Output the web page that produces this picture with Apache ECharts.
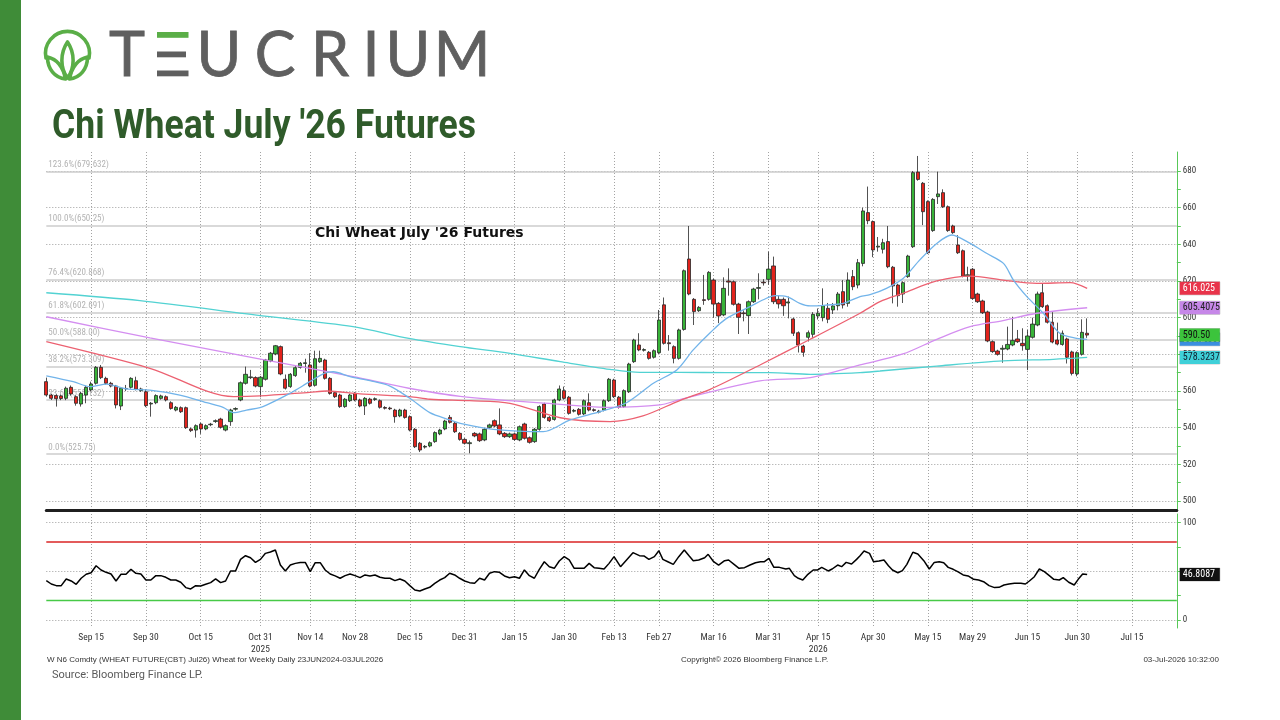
<!DOCTYPE html>
<html><head><meta charset="utf-8">
<script src="https://cdn.jsdelivr.net/npm/echarts@6/dist/echarts.min.js"></script>
<style>
html,body{margin:0;padding:0;background:#fff;width:1280px;height:720px;overflow:hidden}
#chart{position:absolute;left:0;top:0;width:1280px;height:720px}
#bar{position:absolute;left:0;top:0;width:21px;height:720px;background:#3f8c38}
#hdr{position:absolute;left:0;top:0}
</style></head><body>
<div id="chart"></div>
<div id="bar"></div>
<svg id="hdr" width="600" height="150" viewBox="0 0 600 150">
  <g fill="none" stroke="#5aae47" stroke-width="3.6" stroke-linejoin="round" stroke-linecap="round">
    <path d="M 46 58 A 22 22 0 1 1 89 58"/>
    <path d="M 67.5 78 C 60 68, 60 53, 67.5 42 C 75 53, 75 68, 67.5 78 Z"/>
    <path d="M 65.5 79 C 55 78, 47.5 69, 47.5 57 C 56 59, 63 66, 65.5 79 Z"/>
    <path d="M 69.5 79 C 80 78, 87.5 69, 87.5 57 C 79 59, 72 66, 69.5 79 Z"/>
  </g>
  <g font-family="Lato, 'Open Sans', sans-serif" font-size="61" fill="#5f5f5f" text-anchor="middle" stroke="#5f5f5f" stroke-width="0.8">
    <text x="127" y="76">T</text>
    <text x="219" y="76">U</text>
    <text x="275" y="76">C</text>
    <text x="330" y="76">R</text>
    <text x="371" y="76">I</text>
    <text x="408" y="76">U</text>
    <text x="462" y="76">M</text>
  </g>
  <rect x="157" y="32" width="31.5" height="5.8" fill="#5aae47"/>
  <rect x="157" y="51.5" width="29" height="5.8" fill="#5f5f5f"/>
  <rect x="157" y="70.5" width="31.5" height="5.8" fill="#5f5f5f"/>
  <text x="52" y="138" font-family="Roboto, 'Liberation Sans', sans-serif" font-weight="700" font-size="40" fill="#2f5b2a" textLength="424" lengthAdjust="spacingAndGlyphs">Chi Wheat July '26 Futures</text>
</svg>
<script>
// ---------- DATA ----------
const holidays = ['2025-11-27','2025-12-25','2026-01-01','2026-01-19','2026-02-16','2026-04-03','2026-05-25','2026-06-19'];
const categories = [];
for (let d = new Date(Date.UTC(2025, 8, 2)); categories.length < 228; d.setUTCDate(d.getUTCDate() + 1)) {
  const wd = d.getUTCDay(); const s = d.toISOString().slice(0, 10);
  if (wd === 0 || wd === 6 || holidays.includes(s)) continue;
  categories.push(s);
}
const tickDates = ['2025-09-15','2025-09-30','2025-10-15','2025-10-31','2025-11-14','2025-11-28','2025-12-15','2025-12-31','2026-01-15','2026-01-30','2026-02-13','2026-02-27','2026-03-16','2026-03-31','2026-04-15','2026-04-30','2026-05-15','2026-05-29','2026-06-15','2026-06-30','2026-07-15'];
const tickLabels = ['Sep 15','Sep 30','Oct 15','Oct 31\n2025','Nov 14','Nov 28','Dec 15','Dec 31','Jan 15','Jan 30','Feb 13','Feb 27','Mar 16','Mar 31','Apr 15\n2026','Apr 30','May 15','May 29','Jun 15','Jun 30','Jul 15'];

// [open, close, low, high]
const ohlc = [
[565.1,557.8,556.9,567.3],[557.8,556.0,555.1,558.5],[557.5,555.8,551.5,558.2],[557.3,555.9,555.0,558.0],[556.0,561.5,555.0,562.4],
[562.0,558.4,557.5,563.0],[556.9,553.3,552.0,557.6],[552.9,558.7,551.5,559.5],[557.8,562.0,553.3,562.8],[560.6,563.8,559.8,565.1],
[564.2,572.9,563.5,573.6],[572.9,567.3,566.5,574.2],[566.9,564.2,563.5,567.8],[564.2,562.7,562.0,565.0],[562.7,552.4,550.5,563.3],
[551.8,561.5,549.6,562.2],[561.4,561.2,560.0,563.3],[562.0,566.9,561.3,567.5],[565.6,561.0,560.3,567.8],[560.2,561.1,559.5,561.8],
[559.6,552.0,551.2,561.0],[552.9,553.3,546.0,554.0],[553.6,557.5,552.8,558.2],[556.0,557.3,555.3,558.0],[556.9,555.1,554.3,557.6],
[553.6,550.5,549.8,554.4],[549.6,551.1,548.9,551.8],[550.9,548.7,548.0,551.6],[550.9,540.0,539.3,551.5],[539.3,538.4,537.6,540.0],
[538.7,541.1,534.6,541.8],[542.0,539.3,536.6,542.7],[539.3,541.1,538.6,541.8],[541.6,541.9,540.8,542.6],[543.4,543.8,542.6,544.5],
[544.7,540.2,539.5,545.4],[538.7,541.1,538.0,541.8],[543.3,549.6,541.0,550.3],[550.1,550.4,549.3,551.1],[555.1,564.5,554.4,565.2],
[564.2,569.1,563.5,573.3],[567.3,567.7,566.5,571.5],[567.3,562.7,562.0,568.0],[562.4,567.5,556.6,568.2],[566.4,576.9,565.7,577.5],
[576.4,580.6,575.7,581.3],[580.2,584.7,579.5,585.1],[584.2,569.3,568.6,584.8],[566.4,561.5,560.8,569.0],[562.4,569.1,561.7,569.8],
[568.4,572.7,567.7,573.6],[572.9,575.1,572.2,575.8],[575.0,575.4,570.0,577.6],[574.2,562.7,562.0,580.6],[563.1,577.6,562.4,582.0],
[576.0,577.8,575.3,582.0],[576.9,566.9,566.2,577.6],[566.9,558.7,558.0,567.6],[559.1,556.9,556.2,559.8],[557.8,551.5,550.8,558.5],
[551.5,555.5,550.8,556.2],[554.7,557.8,554.0,558.5],[558.7,555.1,554.4,559.4],[555.1,551.8,551.1,555.8],[551.8,556.0,546.9,556.7],
[555.6,553.3,552.6,556.3],[555.4,555.8,554.6,556.5],[554.7,551.1,550.4,555.4],[551.0,550.6,549.9,551.7],[550.7,550.3,549.6,551.4],
[549.6,546.0,542.7,550.3],[546.4,549.6,545.7,550.3],[549.6,545.6,544.9,550.3],[546.0,538.7,538.0,546.7],[539.1,529.6,528.9,539.8],
[531.5,527.8,526.7,532.2],[529.4,529.8,528.6,530.5],[530.0,531.8,529.3,532.5],[532.4,537.3,531.7,538.0],[536.6,538.7,535.9,539.4],
[539.3,543.6,538.6,544.3],[545.6,542.9,542.2,546.9],[542.4,537.8,537.1,543.1],[536.9,533.6,532.9,537.6],[533.6,531.5,530.8,534.3],
[531.3,531.8,526.0,533.0],[536.9,535.5,534.8,537.6],[536.6,532.9,532.2,537.3],[533.3,539.1,532.6,539.8],[540.2,541.5,539.5,542.2],
[543.8,540.9,540.2,544.5],[541.5,536.6,535.9,550.5],[536.9,535.1,534.4,537.6],[535.1,536.6,534.4,537.3],[536.6,533.6,532.9,537.3],
[533.3,540.5,532.6,541.2],[542.0,534.2,533.5,542.7],[534.5,532.0,531.3,535.2],[532.4,539.1,531.7,539.8],[539.1,551.5,538.4,552.2],
[552.9,545.6,544.9,553.6],[545.6,543.8,543.1,546.3],[544.5,555.1,543.8,555.8],[555.1,561.1,554.4,563.0],[560.2,556.0,555.3,562.4],
[556.6,547.8,547.1,557.3],[549.0,549.4,548.3,550.2],[550.0,547.3,546.6,550.7],[547.5,554.7,546.8,555.4],[553.6,549.6,548.9,558.7],
[549.8,549.4,548.7,550.5],[548.5,549.0,547.8,549.7],[549.6,554.7,548.9,555.4],[554.7,566.4,554.0,567.1],[566.0,556.9,556.2,566.7],
[556.6,551.1,550.4,557.3],[551.5,560.2,550.8,560.9],[559.6,574.7,558.9,575.4],[576.0,587.8,575.3,588.5],[585.1,582.4,581.7,591.5],
[582.2,582.6,581.5,583.3],[581.1,577.8,577.1,581.8],[578.4,582.0,577.7,582.7],[580.9,598.7,580.2,604.2],[607.0,586.0,585.3,611.0],
[586.3,585.8,582.0,590.5],[584.2,577.8,575.1,584.9],[577.8,593.3,577.1,594.0],[593.6,625.6,592.9,626.3],[632.0,612.9,612.2,650.0],
[610.0,603.3,596.0,610.7],[603.8,605.6,603.1,606.3],[609.8,609.4,607.0,623.3],[610.0,624.7,609.3,625.4],[620.5,607.4,600.0,621.2],
[607.8,600.9,597.0,608.5],[601.5,616.0,600.8,622.0],[620.0,619.4,612.0,626.9],[619.6,607.3,606.6,620.3],[607.4,600.2,591.1,608.1],
[602.6,602.2,598.0,604.0],[601.1,608.7,591.1,609.4],[608.7,615.6,608.0,616.3],[616.0,616.4,610.0,624.2],[619.4,619.0,617.5,621.0],
[620.9,626.5,618.0,636.0],[628.2,608.7,607.4,633.3],[610.0,607.5,605.0,612.0],[610.0,606.5,601.0,611.0],[608.0,608.6,599.6,611.5],
[599.3,591.5,590.0,600.0],[591.8,585.1,581.0,592.5],[584.5,581.1,578.7,585.2],[589.3,591.8,587.0,593.0],[590.9,601.8,589.0,603.0],
[600.9,602.4,599.0,605.0],[600.0,606.5,598.0,616.0],[605.1,599.1,597.0,608.0],[604.2,606.4,602.0,608.0],[606.5,612.9,604.0,614.0],
[614.2,606.9,605.0,620.5],[607.8,620.5,606.0,624.7],[622.4,616.9,615.0,626.0],[617.8,630.0,616.0,632.0],[629.6,658.2,628.0,660.0],
[657.3,652.9,651.0,671.5],[652.4,636.9,633.0,653.0],[638.5,639.0,636.0,644.0],[637.3,640.9,635.0,643.0],[641.5,627.8,627.0,650.0],
[627.5,617.3,607.8,628.2],[617.8,612.0,606.0,618.5],[612.9,619.1,608.0,619.8],[622.4,633.6,621.7,634.3],[638.7,679.1,638.0,680.0],
[679.4,675.4,674.7,688.2],[673.3,657.8,650.5,674.0],[663.3,635.4,634.7,664.0],[647.5,664.5,646.8,665.2],[666.0,667.5,662.0,679.6],
[668.2,660.5,659.8,670.0],[660.5,647.5,646.8,661.2],[650.0,646.4,645.7,650.7],[639.6,635.4,634.7,645.0],[636.5,622.7,622.0,637.2],
[622.8,623.4,620.0,627.8],[626.4,610.5,609.8,627.1],[612.9,608.7,608.0,613.6],[609.1,602.7,602.0,609.8],[603.1,587.3,586.6,603.8],
[586.9,581.5,580.8,587.6],[581.8,580.0,579.3,582.5],[582.8,583.3,575.4,585.0],[582.9,585.4,582.2,595.1],[585.1,587.6,584.4,600.5],
[588.4,586.9,586.2,593.3],[586.0,584.7,582.0,594.2],[582.7,590.0,571.4,593.3],[589.3,596.5,588.6,600.0],[596.0,612.9,595.3,614.2],
[613.6,606.0,605.3,618.7],[606.5,597.5,596.8,607.2],[597.5,586.7,586.0,603.0],[587.8,585.6,584.9,597.3],[585.4,591.5,584.7,593.0],
[588.4,578.4,575.0,589.1],[581.3,569.6,568.5,582.0],[569.3,580.9,568.0,581.6],[580.0,592.0,579.3,599.1],[591.5,590.5,589.0,599.6]
];

const ma20 = [[0,568.3],[5.4,565.1],[8.8,562.4],[12.1,563.8],[16.1,561.1],[20.8,560.5],[26.8,557.8],[32.2,553.6],[35.5,551.1],[37.6,548.2],[40.2,549.6],[42.9,550.9],[44.3,552.4],[48.9,558.7],[52.9,565.1],[55.9,569.7],[57.6,570.5],[61,567.8],[65,565.6],[69,562.7],[73,556],[77,548.2],[81.1,544.2],[83.1,542.4],[89.8,539.1],[99.8,537.8],[105.2,544.2],[111.2,548.7],[116.5,553.6],[121.9,564.2],[126.6,571.5],[129.9,582.4],[133.3,591.8],[136.6,599.6],[141.3,606],[144.6,610.6],[146.3,612],[148.7,611.5],[151.3,607.8],[153.4,606.4],[156.7,606.9],[160,607.8],[163.4,611.5],[165.4,612.5],[168.7,616],[172.1,621.5],[175.4,631.5],[178.8,640.5],[181.8,645.1],[185.5,640.5],[188.8,635.1],[192.2,629.6],[194.2,620.5],[196.9,611.5],[200.2,602.4],[203.5,591.5],[206.9,588.7],[209,588.2]];
const ma50 = [[0,586.9],[20.8,572.4],[37.6,556.9],[42.9,557.3],[52.9,559.3],[56.3,560],[63,558.4],[73,556.9],[77,555.5],[85,554.7],[93.1,553.3],[103.2,545.4],[113.2,543.3],[119.8,546.4],[127.2,554.8],[133.3,560.9],[143.3,574.2],[153.4,588.2],[163.4,602.4],[167.4,608.7],[172,613.3],[178.8,620],[185.5,622.7],[192.1,620.5],[198.9,618.7],[205.6,619.1],[209,616.0]];
const ma100 = [[0,600.5],[20.8,589],[42.2,577.8],[61.6,567.8],[72.8,561.5],[83.1,557.1],[103.2,552.7],[113.2,551.1],[123.2,552.4],[127.2,555.3],[143.3,565.5],[153.4,567.3],[163.4,574.2],[172,580.2],[178.8,588.2],[185.5,595.1],[192.1,598.4],[198.9,602.4],[209,605.4]];
const ma200 = [[0,613.6],[18.8,609.3],[42.2,601.4],[61.6,595.1],[72.8,588.7],[83.1,584.2],[93.1,580.5],[103.2,576],[113.2,571.8],[119.2,570.2],[127.2,570.2],[136.6,570],[145.3,570],[153.4,569.1],[163.4,570],[167.4,570.9],[178.8,573.6],[192.1,576.4],[202.2,577.3],[209,578.3]];

const rsi = [[0,40.5],[1,37.0],[2,35.3],[3,35.3],[4,42.2],[5,40.1],[6,36.7],[7,42.9],[8,47.0],[9,48.6],[10,55.8],[11,51.4],[12,49.0],[13,47.3],[14,40.1],[15,47.0],[16,47.0],[17,52.1],[18,48.0],[19,47.3],[20,41.1],[21,41.1],[22,45.6],[23,45.6],[24,43.9],[25,41.1],[26,41.1],[27,38.8],[28,33.3],[29,31.9],[30,35.3],[31,35.0],[32,36.7],[33,38.4],[34,42.2],[35,38.4],[36,40.1],[37,50.4],[38,50.4],[39,62.3],[40,66.1],[41,64.0],[42,59.2],[43,62.3],[44,68.5],[45,69.9],[46,71.9],[47,56.5],[48,50.4],[49,56.5],[50,58.2],[51,59.2],[52,59.2],[53,49.7],[54,58.9],[55,58.9],[56,51.4],[57,47.3],[58,45.3],[59,42.9],[60,45.6],[61,47.3],[62,45.6],[63,43.5],[64,46.3],[65,45.3],[66,46.3],[67,43.9],[68,42.9],[69,42.9],[70,40.5],[71,42.2],[72,40.1],[73,35.3],[74,30.8],[75,29.8],[76,31.9],[77,33.6],[78,37.7],[79,41.1],[80,43.5],[81,48.0],[82,46.3],[83,42.9],[84,40.1],[85,38.4],[86,37.7],[87,42.9],[88,41.1],[89,48.0],[90,49.7],[91,49.0],[92,45.3],[93,43.5],[94,44.5],[95,42.9],[96,51.4],[97,45.6],[98,42.9],[99,52.1],[100,59.9],[101,54.8],[102,53.1],[103,60.6],[104,65.1],[105,61.7],[106,53.1],[107,53.1],[108,53.1],[109,58.2],[110,53.8],[111,53.1],[112,52.4],[113,58.2],[114,65.1],
[115.3,54.8],[116.6,62.3],[117.8,69.2],[119.1,66.1],[120,65.8],[121,62.3],[122.1,65.1],[123,71.2],[123.8,62.3],[124.8,59.9],[125.9,57.2],[127,65.1],[128.1,71.9],[129.1,65.8],[129.9,61.0],[131,61.7],[132.2,64.0],[132.9,67.5],[134,59.9],[135,56.5],[136.2,61.0],[137,61.7],[138.1,57.2],[139.1,53.1],[140.2,53.8],[141.3,56.5],[142.4,58.9],[143.4,59.9],[144.2,59.9],[145.1,63.3],[146.1,54.1],[147.2,54.1],[148.5,52.4],[149.2,53.1],[150.2,45.6],[151,42.9],[151.9,41.1],[152.8,46.3],[154,51.4],[154.9,51.4],[155.7,54.1],[157,50.4],[157.8,52.4],[158.9,56.5],[159.7,54.8],[160.6,59.2],[161.7,57.5],[162.7,62.3],[163.4,66.1],[164.2,70.9],[165.3,68.5],[166.1,59.9],[167.2,60.6],[168.2,61.7],[169.1,55.8],[169.9,51.4],[171,48.6],[171.9,50.7],[172.8,57.2],[174,69.6],[175,67.8],[176.2,61.0],[177.3,52.4],[178.3,59.2],[179.3,59.9],[180.2,58.9],[181.1,54.1],[182.1,52.1],[183,49.7],[184.1,46.3],[185.1,45.3],[186.2,41.8],[187.2,41.1],[188.2,39.4],[189.3,35.3],[190.4,33.3],[191.3,33.6],[192.3,36.0],[193.3,37.0],[194.4,37.7],[195.7,37.7],[196.6,37.0],[197.4,40.1],[198.4,44.5],[199.4,52.4],[200.4,49.7],[201.4,45.6],[202.3,41.8],[203.4,41.1],[204.2,43.5],[205.3,38.8],[206.4,36.0],[207.2,41.8],[208.1,47.3],[209,46.8]];

const priceTicks = [500,520,540,560,580,600,620,640,660,680];
const priceMinorTicks = [500,510,520,530,540,550,560,570,580,590,600,610,620,630,640,650,660,670,680];
const fibLevels = [679.632,650.25,620.868,602.691,588.00,573.309,555.132,525.75];
const fibLabels = ['123.6%(679.632)','100.0%(650.25)','76.4%(620.868)','61.8%(602.691)','50.0%(588.00)','38.2%(573.309)','23.6%(555.132)','0.0%(525.75)'];
const rsiTicks = [0,100];
const rsiMinorTicks = [0,25,50,75,100];
const rsiGrid = [0,50,100];
const rsiBands = [80,20];
const lastClose = 590.50, lastCloseText = '590.50';
const maLast = {ma20:[588.215,'588.2150'], ma50:[616.025,'616.025'], ma100:[605.4075,'605.4075'], ma200:[578.3237,'578.3237']};
const rsiLast = [46.8087,'46.8087'];

// ---------- CHART ----------
const NARROW = "'Liberation Sans Narrow','Roboto Condensed','DejaVu Sans Condensed','Liberation Sans',sans-serif";
const tickMap = new Map(tickDates.map((d, i) => [d, tickLabels[i]]));
const isTick = (i, v) => tickMap.has(v);
const vGrid = {show: true, interval: isTick, lineStyle: {color: '#a3a3a3', type: [1, 2], width: 1}};

function tag(value, text, bg, fg, z) {
  return {
    z: z, silent: true, animation: false, symbol: ['none', 'none'],
    lineStyle: {width: 0, color: 'rgba(0,0,0,0)'},
    label: {show: true, position: 'end', distance: 3, formatter: text, backgroundColor: bg, color: fg, opacity: 1,
      width: 35, align: 'left', padding: [2, 2, 1, 3], fontSize: 10, fontFamily: NARROW,
      borderColor: 'rgba(0,0,0,0.25)', borderWidth: 0.5},
    emphasis: {disabled: true},
    data: [{yAxis: value}]
  };
}

const priceLines = priceTicks.map(v => ({yAxis: v, lineStyle: {type: [1, 2], color: '#9e9e9e', width: 1}, label: {show: false}}))
  .concat(fibLevels.map((v, i) => ({yAxis: v, lineStyle: {type: 'solid', color: '#cdcdcd', width: 1.6},
    label: {show: true, position: 'insideStartTop', distance: [2, 2], formatter: fibLabels[i], color: '#b3b3b3', fontSize: 9, fontFamily: NARROW}})));
const rsiLines = rsiGrid.map(v => ({yAxis: v, lineStyle: {type: [1, 2], color: '#9e9e9e', width: 1}, label: {show: false}}))
  .concat([{yAxis: rsiBands[0], lineStyle: {type: 'solid', color: '#e35b5b', width: 1.8}, label: {show: false}},
           {yAxis: rsiBands[1], lineStyle: {type: 'solid', color: '#47c947', width: 1.4}, label: {show: false}}]);

function maSeries(data, color, tg, bg, fg, z) {
  return {type: 'line', xAxisIndex: 2, yAxisIndex: 0, data: data, smooth: 0.3, symbol: 'none', z: 3,
    lineStyle: {color: color, width: 1.3}, itemStyle: {color: color}, silent: true,
    markLine: tag(tg[0], tg[1], bg, fg, z)};
}

const option = {
  animation: false,
  title: [
    {text: "Chi Wheat July '26 Futures", left: 315, top: 226, padding: 0,
      textStyle: {fontSize: 14, fontWeight: 'bold', color: '#111', fontFamily: "'DejaVu Sans', Verdana, sans-serif"}},
    {text: 'W N6 Comdty (WHEAT FUTURE(CBT) Jul26) Wheat for Weekly Daily 23JUN2024-03JUL2026', left: 47, top: 656, padding: 0,
      textStyle: {fontSize: 8, fontWeight: 'normal', color: '#333', fontFamily: "'Liberation Sans', sans-serif"}},
    {text: 'Copyright\u00a9 2026 Bloomberg Finance L.P.', left: 681, top: 656, padding: 0,
      textStyle: {fontSize: 8, fontWeight: 'normal', color: '#333', fontFamily: "'Liberation Sans', sans-serif"}},
    {text: '03-Jul-2026 10:32:00', right: 61, top: 656, padding: 0,
      textStyle: {fontSize: 8, fontWeight: 'normal', color: '#333', fontFamily: "'Liberation Sans', sans-serif"}},
    {text: 'Source: Bloomberg Finance LP.', left: 52, top: 670, padding: 0,
      textStyle: {fontSize: 11, fontWeight: 'normal', color: '#5a5a5a', fontFamily: "Roboto, 'Liberation Sans', sans-serif"}}
  ],
  grid: [
    {left: 46.3, width: 1130.5, top: 152, height: 358, outerBoundsMode: 'none'},
    {left: 46.3, width: 1130.5, top: 514, height: 114, outerBoundsMode: 'none'}
  ],
  xAxis: [
    {type: 'category', gridIndex: 0, data: categories, boundaryGap: false,
      axisLine: {show: true, onZero: false, lineStyle: {color: '#1f1f1f', width: 3}},
      axisTick: {show: false}, axisLabel: {show: false}, splitLine: vGrid},
    {type: 'category', gridIndex: 1, data: categories, boundaryGap: false,
      axisLine: {show: false, onZero: false}, axisTick: {show: false},
      axisLabel: {show: true, interval: isTick, formatter: v => tickMap.get(v) || '', color: '#333', fontSize: 9.5,
        fontFamily: NARROW, margin: 4, lineHeight: 12},
      splitLine: vGrid},
    {type: 'value', gridIndex: 0, min: 0, max: 227, show: false},
    {type: 'value', gridIndex: 1, min: 0, max: 227, show: false}
  ],
  yAxis: [
    {type: 'value', gridIndex: 0, position: 'right', min: 495.09, max: 690.36,
      axisLine: {show: true, onZero: false, lineStyle: {color: '#58c858', width: 1}},
      axisTick: {show: true, length: 4, customValues: priceMinorTicks, lineStyle: {color: '#58c858'}},
      axisLabel: {customValues: priceTicks, color: '#333', fontSize: 9, fontFamily: NARROW, margin: 6},
      splitLine: {show: false}},
    {type: 'value', gridIndex: 1, position: 'right', min: -8.22, max: 108.94,
      axisLine: {show: true, onZero: false, lineStyle: {color: '#58c858', width: 1}},
      axisTick: {show: true, length: 4, customValues: rsiMinorTicks, lineStyle: {color: '#58c858'}},
      axisLabel: {customValues: rsiTicks, color: '#333', fontSize: 9, fontFamily: NARROW, margin: 6},
      splitLine: {show: false}}
  ],
  series: [
    {type: 'candlestick', xAxisIndex: 0, yAxisIndex: 0, data: ohlc, barWidth: 3.8, z: 2, silent: true,
      itemStyle: {color: '#38b338', color0: '#e2231c', borderColor: '#262626', borderColor0: '#262626', borderWidth: 0.8},
      markLine: {z: 1, silent: true, animation: false, symbol: ['none', 'none'], data: priceLines}},
    maSeries(ma200, '#52d2d2', maLast.ma200, '#3fd0d8', '#102030', 6),
    maSeries(ma100, '#d48ef0', maLast.ma100, '#c687e8', '#222', 6),
    maSeries(ma50, '#ec6171', maLast.ma50, '#e8344a', '#fff', 6),
    maSeries(ma20, '#72b4ea', maLast.ma20, '#3b8fe0', '#fff', 6),
    {type: 'line', xAxisIndex: 2, yAxisIndex: 0, data: [[209, lastClose]], symbol: 'none', silent: true,
      markLine: tag(lastClose, lastCloseText, '#3cc43c', '#111', 8)},
    {type: 'line', xAxisIndex: 3, yAxisIndex: 1, data: [[209, rsiLast[0]]], symbol: 'none', silent: true,
      markLine: {z: 1, silent: true, animation: false, symbol: ['none', 'none'], data: rsiLines}},
    {type: 'line', xAxisIndex: 3, yAxisIndex: 1, data: rsi, symbol: 'none', z: 3, silent: true,
      lineStyle: {color: '#000', width: 1.5},
      markLine: tag(rsiLast[0], rsiLast[1], '#111', '#fff', 8)}
  ]
};
const chart = echarts.init(document.getElementById('chart'), null, {renderer: 'canvas'});
chart.setOption(option);
</script>
</body></html>
